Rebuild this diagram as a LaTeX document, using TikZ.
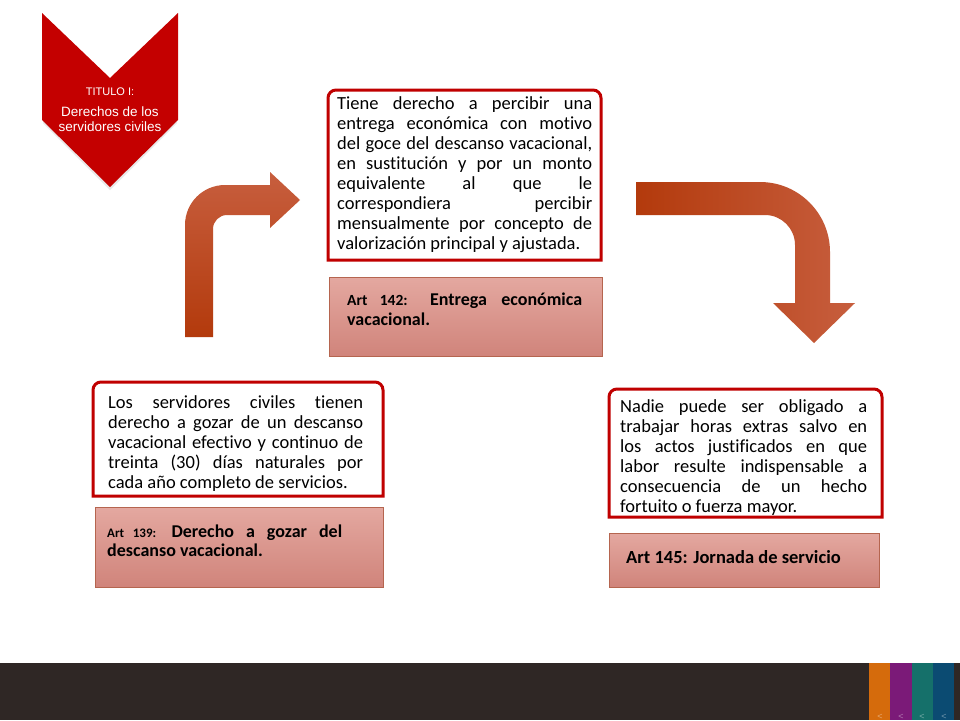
\documentclass[tikz,border=0pt]{standalone}
\usepackage{fontspec}
\setmainfont{Carlito}[Ligatures=NoCommon]
\newfontfamily\arialf{Liberation Sans}
\definecolor{titred}{HTML}{C40000}
\definecolor{boxred}{HTML}{C00000}
\definecolor{arrDark}{HTML}{B33A0C}
\definecolor{arrLight}{HTML}{C75E3E}
\definecolor{pinkT}{HTML}{E4A8A0}
\definecolor{pinkB}{HTML}{D0847B}
\definecolor{pinkE}{HTML}{B5654F}
\definecolor{barc}{HTML}{2F2725}
\definecolor{stO}{HTML}{D56B0C}
\definecolor{stP}{HTML}{7B1A78}
\definecolor{stT}{HTML}{15706A}
\definecolor{stB}{HTML}{0B4B72}
\newcommand\jline[1]{\makebox[\linewidth][s]{#1}\par}
\newcommand\bodyfont{\fontsize{18.5}{20}\selectfont\lineskiplimit=-100pt}
\tikzset{
  redbox/.style={draw=boxred, line width=3pt, fill=white},
  pinkbox/.style={draw=pinkE, line width=0.8pt, top color=pinkT, bottom color=pinkB},
  bodytext/.style={anchor=base west, inner sep=0pt, text=black},
  labeltext/.style={anchor=base west, inner sep=0pt, text=black, font=\bfseries},
  titletext/.style={anchor=base, inner sep=0pt, text=white},
  bentarrow/.style={draw=none},
  chev/.style={anchor=base, inner sep=0pt, font=\arialf\fontsize{9}{9}\selectfont}
}
\begin{document}
\begin{tikzpicture}[x=1pt,y=-1pt]
\useasboundingbox (0,0) rectangle (960,720);
\fill[white] (0,0) rectangle (960,720);

% title chevron
\fill[gray!50, opacity=0.35] (43,16) -- (110,81) -- (177,16) -- (177,123) -- (110,190) -- (43,123) -- cycle;
\fill[titred] (42,13) -- (110,78) -- (178,13) -- (178,120) -- (110,187) -- (42,120) -- cycle;
\node[titletext, font=\arialf\fontsize{11}{12}\selectfont] (t1) at (110,95) {TITULO I:};
\node[titletext, font=\arialf\fontsize{13.5}{14}\selectfont] (t2) at (110,116.5) {Derechos de los};
\node[titletext, font=\arialf\fontsize{13.5}{14}\selectfont] (t3) at (110,131) {servidores civiles};

% bent arrow up-right
\shade[bentarrow, top color=arrLight, bottom color=arrDark]
  (185,337) -- (185,225) arc[start angle=180,end angle=270,radius=40]
  -- (270,185) -- (270,172) -- (300,200) -- (270,228) -- (270,215)
  -- (227,215) arc[start angle=270,end angle=180,radius=14]
  -- (213,337) -- cycle;

% bent arrow right-down
\shade[bentarrow, left color=arrDark, right color=arrLight]
  (636,182) -- (760,182) arc[start angle=-90,end angle=0,radius=70]
  -- (830,303) -- (855,303) -- (814,343) -- (773,303) -- (795,303)
  -- (795,245) arc[start angle=0,end angle=-90,radius=30]
  -- (636,215) -- cycle;

% red text boxes
\path[redbox] (328,260) -- (328,98) arc[start angle=180,end angle=270,radius=8]
  -- (593,90) arc[start angle=270,end angle=360,radius=8] -- (601,260) -- cycle;
\node[bodytext] (ta) at (337,109) {\parbox[t]{255pt}{\bodyfont
\jline{Tiene derecho a percibir una}
\jline{entrega económica con motivo}
\jline{del goce del descanso vacacional,}
\jline{en sustitución y por un monto}
\jline{equivalente al que le}
\jline{correspondiera percibir}
\jline{mensualmente por concepto de}
valorización principal y ajustada.}};

\path[redbox] (93,496) -- (93,390) arc[start angle=180,end angle=270,radius=8]
  -- (375,382) arc[start angle=270,end angle=360,radius=8] -- (383,496) -- cycle;
\node[bodytext] (tb) at (108,408) {\parbox[t]{255pt}{\bodyfont
\jline{Los servidores civiles tienen}
\jline{derecho a gozar de un descanso}
\jline{vacacional efectivo y continuo de}
\jline{treinta (30) días naturales por}
cada año completo de servicios.}};

\path[redbox] (609,517) -- (609,397) arc[start angle=180,end angle=270,radius=8]
  -- (874,389) arc[start angle=270,end angle=360,radius=8] -- (882,517) -- cycle;
\node[bodytext] (tc) at (620,412) {\parbox[t]{247pt}{\bodyfont
\jline{Nadie puede ser obligado a}
\jline{trabajar horas extras salvo en}
\jline{los actos justificados en que}
\jline{labor resulte indispensable a}
\jline{consecuencia de un hecho}
fortuito o fuerza mayor.}};

% pink label boxes
\path[pinkbox] (329,277) rectangle (602,356);
\node[labeltext] (la) at (347,305) {\parbox[t]{235pt}{\fontsize{18}{20}\selectfont
\jline{\fontsize{15.5}{20}\selectfont Art 142: \fontsize{18}{20}\selectfont Entrega económica}
vacacional.}};

\path[pinkbox] (95,507) rectangle (383,587);
\node[labeltext] (lb) at (107,537) {\parbox[t]{235pt}{\fontsize{18}{19}\selectfont
\makebox[\linewidth][s]{\fontsize{13}{19}\selectfont Art 139: \fontsize{18}{19}\selectfont Derecho a gozar del}\par
descanso vacacional.}};

\path[pinkbox] (609,533) rectangle (879,587);
\node[labeltext, font=\bfseries\fontsize{18.5}{20}\selectfont] (lc) at (626,563) {Art 145: Jornada de servicio};

% bottom bar
\fill[barc] (0,663) rectangle (960,720);
\fill[stO] (869,663) rectangle (890,720);
\fill[stP] (890,663) rectangle (912,720);
\fill[stT] (912,663) rectangle (933,720);
\fill[stB] (933,663) rectangle (954,720);
\node[chev, text=stO!60!white] (c1) at (880,719) {<};
\node[chev, text=stP!60!white] (c2) at (901,719) {<};
\node[chev, text=stT!60!white] (c3) at (922,719) {<};
\node[chev, text=stB!60!white] (c4) at (944,719) {<};
\end{tikzpicture}
\end{document}
